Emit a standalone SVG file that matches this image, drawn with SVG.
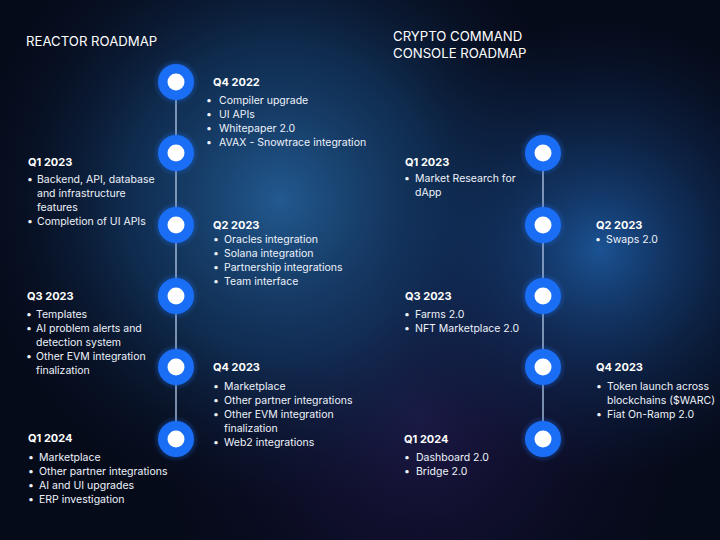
<svg xmlns="http://www.w3.org/2000/svg" width="720" height="540" viewBox="0 0 720 540">
<defs>
<radialGradient id="g1" cx="280" cy="200" r="310" gradientUnits="userSpaceOnUse">
<stop offset="0" stop-color="#22598f" stop-opacity="1"/>
<stop offset="0.5" stop-color="#143d6b" stop-opacity="0.65"/>
<stop offset="1" stop-color="#0a1630" stop-opacity="0"/>
</radialGradient>
<radialGradient id="g2" cx="600" cy="250" r="230" gradientUnits="userSpaceOnUse">
<stop offset="0" stop-color="#1c569a" stop-opacity="0.95"/>
<stop offset="1" stop-color="#0d2550" stop-opacity="0"/>
</radialGradient>
<radialGradient id="g3" cx="420" cy="420" r="260" gradientUnits="userSpaceOnUse">
<stop offset="0" stop-color="#241d55" stop-opacity="0.75"/>
<stop offset="1" stop-color="#120c30" stop-opacity="0"/>
</radialGradient>
<radialGradient id="glow">
<stop offset="0.6" stop-color="#1a6ef5" stop-opacity="0.5"/>
<stop offset="1" stop-color="#1a6ef5" stop-opacity="0"/>
</radialGradient>
<style>
.t{font-family:Inter,"Liberation Sans",sans-serif;fill:#ffffff}
.title{font-size:13.2px;font-weight:400}
.h{font-size:11px;font-weight:700}
.b{font-size:10.5px;font-weight:400;fill:#eef2fa}
.line{stroke:#9fb6d6;stroke-width:1.5}
.outer{fill:#1a6ef5}
.inner{fill:#ffffff}
.halo{fill:url(#glow)}
</style>
<g id="node">
<circle class="halo" r="23"/>
<circle class="outer" r="18"/>
<circle class="inner" r="8.5"/>
</g>
</defs>
<rect width="720" height="540" fill="#060b1a"/>
<rect width="720" height="540" fill="url(#g3)"/>
<rect width="720" height="540" fill="url(#g1)"/>
<rect width="720" height="540" fill="url(#g2)"/>

<text class="t title" x="26" y="46">REACTOR ROADMAP</text>
<text class="t title" x="393" y="41">CRYPTO COMMAND</text>
<text class="t title" x="393" y="58">CONSOLE ROADMAP</text>

<g id="connectors">
<line class="line" x1="176" y1="82" x2="176" y2="439"/>
<line class="line" x1="543" y1="153" x2="543" y2="439"/>
</g>

<g id="r-q4-2022"><use href="#node" x="176" y="82"/>
<text class="t h" x="213" y="86">Q4 2022</text>
<text class="t b"><tspan x="206" y="104">•</tspan><tspan x="219" y="104">Compiler upgrade</tspan><tspan x="206" y="118">•</tspan><tspan x="219" y="118">UI APIs</tspan><tspan x="206" y="132">•</tspan><tspan x="219" y="132">Whitepaper 2.0</tspan><tspan x="206" y="146">•</tspan><tspan x="219" y="146">AVAX - Snowtrace integration</tspan></text></g>

<g id="r-q1-2023"><use href="#node" x="176" y="153"/>
<text class="t h" x="28" y="166">Q1 2023</text>
<text class="t b"><tspan x="27" y="183">•</tspan><tspan x="37" y="183">Backend, API, database</tspan><tspan x="37" y="197">and infrastructure</tspan><tspan x="37" y="211">features</tspan><tspan x="27" y="225">•</tspan><tspan x="37" y="225">Completion of UI APIs</tspan></text></g>

<g id="r-q2-2023"><use href="#node" x="176" y="225"/>
<text class="t h" x="213" y="229">Q2 2023</text>
<text class="t b"><tspan x="213" y="243">•</tspan><tspan x="224" y="243">Oracles integration</tspan><tspan x="213" y="257">•</tspan><tspan x="224" y="257">Solana integration</tspan><tspan x="213" y="271">•</tspan><tspan x="224" y="271">Partnership integrations</tspan><tspan x="213" y="285">•</tspan><tspan x="224" y="285">Team interface</tspan></text></g>

<g id="r-q3-2023"><use href="#node" x="176" y="296"/>
<text class="t h" x="27" y="300">Q3 2023</text>
<text class="t b"><tspan x="26" y="318">•</tspan><tspan x="36" y="318">Templates</tspan><tspan x="26" y="332">•</tspan><tspan x="36" y="332">AI problem alerts and</tspan><tspan x="36" y="346">detection system</tspan><tspan x="26" y="360">•</tspan><tspan x="36" y="360">Other EVM integration</tspan><tspan x="36" y="374">finalization</tspan></text></g>

<g id="r-q4-2023"><use href="#node" x="176" y="367"/>
<text class="t h" x="213" y="371">Q4 2023</text>
<text class="t b"><tspan x="213" y="390">•</tspan><tspan x="224" y="390">Marketplace</tspan><tspan x="213" y="404">•</tspan><tspan x="224" y="404">Other partner integrations</tspan><tspan x="213" y="418">•</tspan><tspan x="224" y="418">Other EVM integration</tspan><tspan x="224" y="432">finalization</tspan><tspan x="213" y="446">•</tspan><tspan x="224" y="446">Web2 integrations</tspan></text></g>

<g id="r-q1-2024"><use href="#node" x="176" y="439"/>
<text class="t h" x="28" y="442">Q1 2024</text>
<text class="t b"><tspan x="28" y="461">•</tspan><tspan x="39" y="461">Marketplace</tspan><tspan x="28" y="475">•</tspan><tspan x="39" y="475">Other partner integrations</tspan><tspan x="28" y="489">•</tspan><tspan x="39" y="489">AI and UI upgrades</tspan><tspan x="28" y="503">•</tspan><tspan x="39" y="503">ERP investigation</tspan></text></g>

<g id="c-q1-2023"><use href="#node" x="543" y="153"/>
<text class="t h" x="405" y="166">Q1 2023</text>
<text class="t b"><tspan x="404" y="182">•</tspan><tspan x="415" y="182">Market Research for</tspan><tspan x="415" y="196">dApp</tspan></text></g>

<g id="c-q2-2023"><use href="#node" x="543" y="225"/>
<text class="t h" x="596" y="229">Q2 2023</text>
<text class="t b"><tspan x="595" y="243">•</tspan><tspan x="606" y="243">Swaps 2.0</tspan></text></g>

<g id="c-q3-2023"><use href="#node" x="543" y="296"/>
<text class="t h" x="405" y="300">Q3 2023</text>
<text class="t b"><tspan x="404" y="318">•</tspan><tspan x="415" y="318">Farms 2.0</tspan><tspan x="404" y="332">•</tspan><tspan x="415" y="332">NFT Marketplace 2.0</tspan></text></g>

<g id="c-q4-2023"><use href="#node" x="543" y="367"/>
<text class="t h" x="596" y="371">Q4 2023</text>
<text class="t b"><tspan x="596" y="390">•</tspan><tspan x="607" y="390">Token launch across</tspan><tspan x="607" y="404">blockchains ($WARC)</tspan><tspan x="596" y="418">•</tspan><tspan x="607" y="418">Fiat On-Ramp 2.0</tspan></text></g>

<g id="c-q1-2024"><use href="#node" x="543" y="439"/>
<text class="t h" x="404" y="443">Q1 2024</text>
<text class="t b"><tspan x="404" y="461">•</tspan><tspan x="416" y="461">Dashboard 2.0</tspan><tspan x="404" y="475">•</tspan><tspan x="416" y="475">Bridge 2.0</tspan></text></g>
</svg>
